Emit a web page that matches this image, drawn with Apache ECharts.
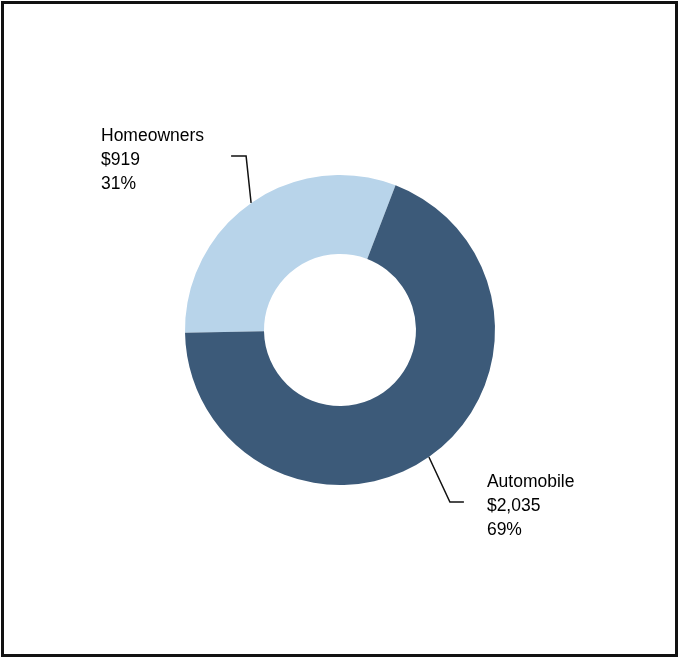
<!DOCTYPE html>
<html>
<head>
<meta charset="utf-8">
<script src="https://cdn.jsdelivr.net/npm/echarts@6/dist/echarts.min.js"></script>
<style>
  html, body { margin: 0; padding: 0; background: #fff; }
  #chart { position: absolute; left: 0; top: 0; width: 680px; height: 658px; }
  #frame { position: absolute; left: 1px; top: 1px; width: 677px; height: 656px;
    border: 3px solid #111; box-sizing: border-box; pointer-events: none; }
</style>
</head>
<body>
<div id="chart"></div>
<div id="frame"></div>
<script>
// policy types and premiums (in $)
const categories = ['Homeowners', 'Automobile']
const premiums = [919, 2035]
const shares = ['31%', '69%']
const colors = ['#b8d4ea', '#3c5a79']

// leader line bends, relative to where the line leaves the ring
const bends = [
  { dx: -5, dy: -47, run: -15, gap: 27 },
  { dx: 21, dy: 45, run: 14, gap: 23 }
]

const fmt = (v) => '$' + v.toLocaleString('en-US')

const chart = echarts.init(document.getElementById('chart'))
chart.setOption({
  animation: false,
  series: [{
    type: 'pie',
    center: [340, 330],
    radius: [76, 155],
    startAngle: 181,
    clockwise: true,
    avoidLabelOverlap: false,
    emphasis: { disabled: true },
    itemStyle: { borderWidth: 0 },
    label: {
      show: true,
      position: 'outside',
      fontFamily: 'Liberation Sans, Arial, sans-serif',
      fontSize: 17.5,
      lineHeight: 24,
      color: '#000',
      formatter: (p) => p.name + '\n' + fmt(p.value) + '\n' + shares[p.dataIndex]
    },
    labelLine: {
      show: true,
      length: 20,
      length2: 15,
      lineStyle: { color: '#111', width: 1.5 }
    },
    labelLayout: (params) => {
      const b = bends[params.dataIndex]
      const p0 = params.labelLinePoints[0]
      const p1 = [p0[0] + b.dx, p0[1] + b.dy]
      const p2 = [p1[0] + b.run, p1[1]]
      const w = params.labelRect.width
      const x = b.run < 0 ? p2[0] - b.gap - w : p2[0] + b.gap
      return {
        x: x,
        y: p2[1] + 4,
        align: 'left',
        verticalAlign: 'middle',
        labelLinePoints: [p0, p1, p2]
      }
    },
    data: categories.map((name, i) => ({
      name: name,
      value: premiums[i],
      itemStyle: { color: colors[i] }
    }))
  }]
})
</script>
</body>
</html>
